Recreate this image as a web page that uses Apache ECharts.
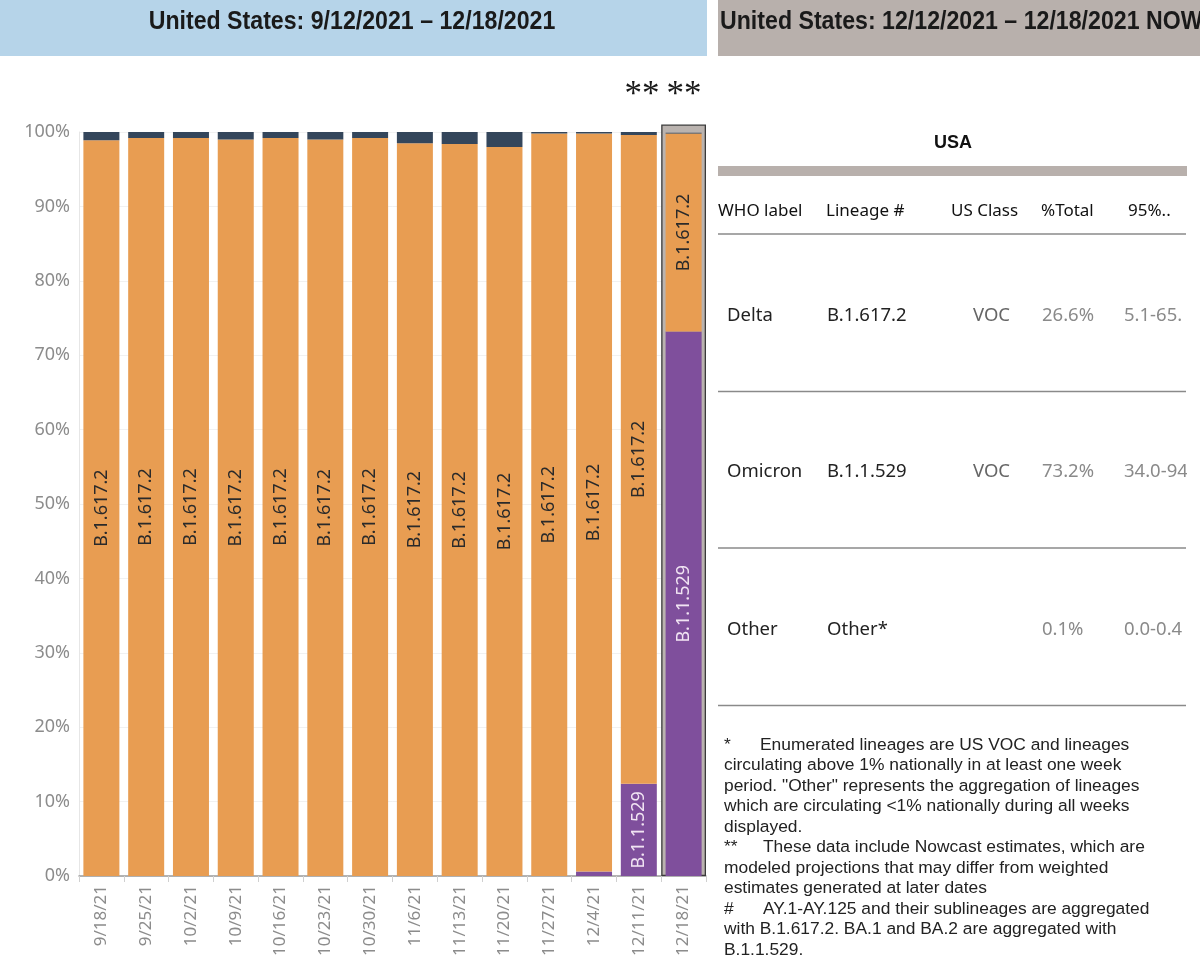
<!DOCTYPE html>
<html><head><meta charset="utf-8">
<script src="https://cdn.jsdelivr.net/npm/echarts@6/dist/echarts.min.js"></script>
<style>html,body{margin:0;padding:0;background:#fff}#c{width:1200px;height:974px}</style>
</head><body><div id="c"></div>
<script>
// ---- data ----
const categories = ['9/18/21','9/25/21','10/2/21','10/9/21','10/16/21','10/23/21','10/30/21','11/6/21','11/13/21','11/20/21','11/27/21','12/4/21','12/11/21','12/18/21'];
const omicron = [0,0,0,0,0,0,0,0,0,0,0,0.6,12.4,73.2];
const delta   = [98.9,99.2,99.2,99.0,99.2,99.0,99.2,98.5,98.4,98.0,99.8,99.2,87.2,26.6];
const other   = [1.1,0.8,0.8,1.0,0.8,1.0,0.8,1.5,1.6,2.0,0.2,0.2,0.4,0.1];
const nowcastBox = [null,null,null,null,null,null,null,null,null,null,null,null,null,101];
const deltaLabel = 'B.1.617.2';
const omicronLabel = 'B.1.1.529';
const titleLeft = 'United States: 9/12/2021 \u2013 12/18/2021';
const titleRight = 'United States: 12/12/2021 \u2013 12/18/2021 NOWCAST';
const tableTitle = 'USA';
const tableHeaders = ['WHO label','Lineage #','US Class','%Total','95%..'];
const tableRows = [
  ['Delta','B.1.617.2','VOC','26.6%','5.1-65.'],
  ['Omicron','B.1.1.529','VOC','73.2%','34.0-94'],
  ['Other','Other*','','0.1%','0.0-0.4']
];
const footnotes = [
  ['*','Enumerated lineages are US VOC and lineages'],
  [null,'circulating above 1% nationally in at least one week'],
  [null,'period. "Other" represents the aggregation of lineages'],
  [null,'which are circulating <1% nationally during all weeks'],
  [null,'displayed.'],
  ['**','These data include Nowcast estimates, which are'],
  [null,'modeled projections that may differ from weighted'],
  [null,'estimates generated at later dates'],
  ['#','AY.1-AY.125 and their sublineages are aggregated'],
  [null,'with B.1.617.2. BA.1 and BA.2 are aggregated with'],
  [null,'B.1.1.529.']
];

// ---- styles ----
const ORANGE = '#e89d52', PURPLE = '#7f4f9c', NAVY = '#34465b';
const TAB = '"Noto Sans", "Open Sans", sans-serif';
const ARIAL = '"Liberation Sans", Arial, sans-serif';

const graphic = [];
// banners
graphic.push({type:'rect', shape:{x:0,y:0,width:707,height:56}, style:{fill:'#b6d4e9'}, z:0});
graphic.push({type:'rect', shape:{x:718,y:0,width:482,height:56}, style:{fill:'#b8b0ac'}, z:0});
graphic.push({type:'text', x:352, y:22, scaleX:0.926, style:{text:titleLeft, fontSize:25, fontWeight:'bold', fontFamily:ARIAL, fill:'#1a1a1a', align:'center', verticalAlign:'middle'}, z:1});
graphic.push({type:'text', x:720, y:22, scaleX:0.926, style:{text:titleRight, fontSize:25, fontWeight:'bold', fontFamily:ARIAL, fill:'#1a1a1a', align:'left', verticalAlign:'middle'}, z:1});
// nowcast asterisks
graphic.push({type:'text', x:642, y:96, style:{text:'**', fontSize:35, fontFamily:'"Liberation Serif", serif', fill:'#1a1a1a', align:'center', verticalAlign:'middle'}, z:5});
graphic.push({type:'text', x:684, y:96, style:{text:'**', fontSize:35, fontFamily:'"Liberation Serif", serif', fill:'#1a1a1a', align:'center', verticalAlign:'middle'}, z:5});
// table
graphic.push({type:'text', x:953, y:143, style:{text:tableTitle, fontSize:18, fontWeight:'bold', fontFamily:ARIAL, fill:'#111', align:'center', verticalAlign:'middle'}});
graphic.push({type:'rect', shape:{x:718,y:166,width:469,height:10}, style:{fill:'#b8b0ac'}});
const hx = [718, 826, 951, 1041, 1128];
tableHeaders.forEach((h,i)=>graphic.push({type:'text', x:hx[i], y:211, style:{text:h, fontSize:17, fontFamily:TAB, fill:'#111', align:'left', verticalAlign:'middle'}}));
const lineYs = [234, 391.5, 548, 705.5];
lineYs.forEach(y=>graphic.push({type:'line', shape:{x1:718,y1:y,x2:1186,y2:y}, style:{stroke:'#8a8a8a', lineWidth:1.5}}));
const rowYs = [316, 471.5, 630];
const rx = [727, 827, 973, 1042, 1124];
const rColors = ['#222','#222','#666','#8a8a8a','#8a8a8a'];
tableRows.forEach((row,r)=>row.forEach((t,i)=>graphic.push({type:'text', x:rx[i], y:rowYs[r], style:{text:t, fontSize:18.5, fontFamily:TAB, fill:rColors[i], align:'left', verticalAlign:'middle'}})));
graphic.push({type:'rect', shape:{x:1187,y:240,width:13,height:460}, style:{fill:'#fff'}, z:10});
// footnotes
footnotes.forEach((f,i)=>{
  const y = 745 + i*20.5;
  if (f[0]) {
    graphic.push({type:'text', x:724, y:y, style:{text:f[0], fontSize:17.4, fontFamily:ARIAL, fill:'#222', align:'left', verticalAlign:'middle'}});
    graphic.push({type:'text', x:f[0]==='*'?760:763, y:y, style:{text:f[1], fontSize:17.4, fontFamily:ARIAL, fill:'#222', align:'left', verticalAlign:'middle'}});
  } else {
    graphic.push({type:'text', x:724, y:y, style:{text:f[1], fontSize:17.4, fontFamily:ARIAL, fill:'#222', align:'left', verticalAlign:'middle'}});
  }
});

const chart = echarts.init(document.getElementById('c'), null, {renderer:'canvas'});
chart.setOption({
  animation:false,
  backgroundColor:'#fff',
  grid:{left:79, top:132, width:627, height:744},
  xAxis:[{
    type:'category', data:categories,
    axisLine:{lineStyle:{color:'#9a9a9a', width:1.5}},
    axisTick:{show:true, length:6, lineStyle:{color:'#d0d0d0'}},
    axisLabel:{rotate:90, interval:0, fontSize:17, color:'#8c8c8c', fontFamily:TAB, margin:9}
  },{
    type:'category', data:categories, show:false
  }],
  yAxis:{
    type:'value', min:0, max:100, interval:10,
    axisLine:{show:true, lineStyle:{color:'#e6e6e6'}},
    axisTick:{show:false},
    splitLine:{lineStyle:{color:'#f1f1f1'}},
    axisLabel:{formatter:'{value}%', fontSize:18, color:'#8c8c8c', fontFamily:TAB, margin:9, padding:[6,0,0,0]}
  },
  series:[
    {type:'bar', name:'nowcast', xAxisIndex:1, data:nowcastBox, barWidth:'100%', clip:false, z:1,
     itemStyle:{color:'#bab3af', borderColor:'#3a3a3a', borderWidth:1.3}, silent:true},
    {type:'bar', name:'B.1.1.529', stack:'s', data:omicron, barWidth:36, z:2,
     itemStyle:{color:PURPLE},
     label:{show:true, position:'inside', rotate:90, fontSize:18, fontFamily:TAB, color:'#f1e4f3',
            formatter:p=>p.value>=5?omicronLabel:''}},
    {type:'bar', name:'B.1.617.2', stack:'s', data:delta, barWidth:36, z:2,
     itemStyle:{color:ORANGE},
     label:{show:true, position:'inside', rotate:90, fontSize:18, fontFamily:TAB, color:'#2a2a2a',
            formatter:()=>deltaLabel}},
    {type:'bar', name:'Other', stack:'s', data:other, barWidth:36, z:2,
     itemStyle:{color:NAVY}}
  ],
  graphic:graphic
});
</script></body></html>
